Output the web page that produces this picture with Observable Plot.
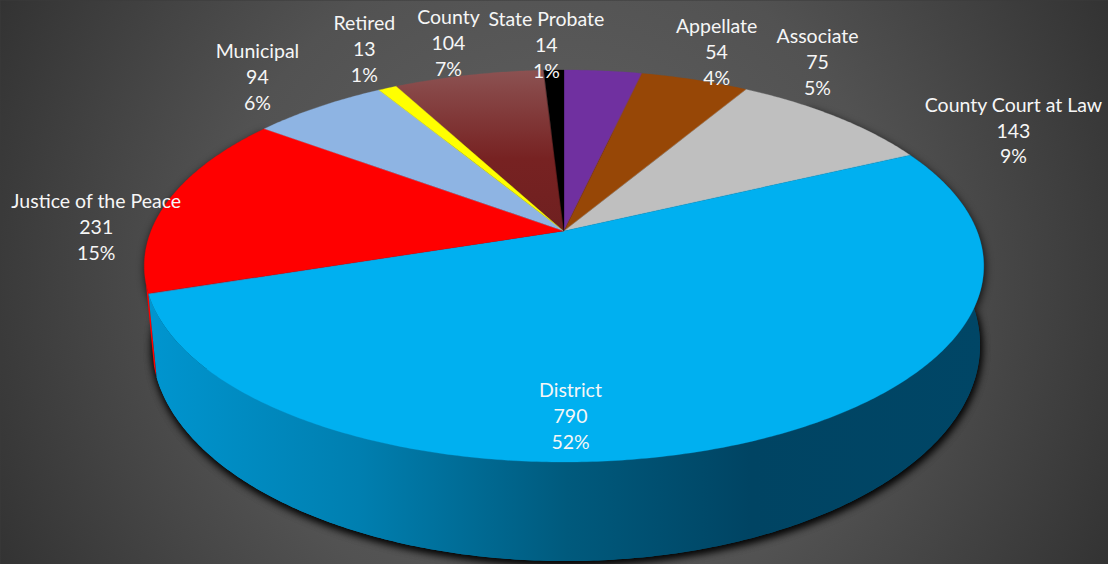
<!DOCTYPE html>
<html>
<head>
<meta charset="utf-8">
<script src="https://cdn.jsdelivr.net/npm/d3@7"></script>
<script src="https://cdn.jsdelivr.net/npm/@observablehq/plot@0.6"></script>
<style>
  html, body { margin: 0; padding: 0; background: #3a3a3a; overflow: hidden; }
  svg { display: block; }
</style>
</head>
<body>
<script>
// Judges by court type, clockwise from twelve o'clock
const courts = ["Appellate", "Associate", "County Court at Law", "District", "Justice of the Peace", "Municipal", "Retired", "County", "State Probate"];
const judges = [54, 75, 143, 790, 231, 94, 13, 104, 14];
const shares = ["4%", "5%", "9%", "52%", "15%", "6%", "1%", "7%", "1%"];
const fills = ["#7030a0", "#974706", "#bfbfbf", "#00b0f0", "#ff0000", "#8eb4e3", "#ffff00", "url(#countyFill)", "#000000"];

// Label offsets from the rim point at each slice's mid-angle
const labelDx = [113, 122, 177, -178, -72, -62, -24, -21, -8];
const labelDy = [-21, -20, 12, -28, 24, -32, -41, -34, -27];

// Perspective view of the disc: top face and the smaller far-side base
const topFace = {cx: 564, cy: 231, a: 413, b: 189.75, k: 0.1786};
const baseFace = {cx: 566, cy: 308.3, a: 408, b: 209.8, k: 0.17};
const project = (f, t) => {
  const w = 1 + f.k * Math.cos(t);
  return [f.cx + f.a * Math.sin(t) / w, f.cy - f.b * Math.cos(t) / w];
};

const total = d3.sum(judges);
const angle = (n) => (n / total) * 2 * Math.PI;
const starts = d3.cumsum([0, ...judges]);
const arc = (from, to, step = 0.01) => {
  const n = Math.max(2, Math.ceil((to - from) / step));
  return d3.range(n + 1).map((i) => from + ((to - from) * i) / n);
};

// A wall ribbon joins the top rim to the base rim over an angular range
const ribbon = (from, to, fill, extra = {}) => {
  const ts = arc(from, to);
  return Plot.area(ts, {
    x1: (t) => project(topFace, t)[0],
    y1: (t) => project(topFace, t)[1],
    x2: (t) => project(baseFace, t)[0],
    y2: (t) => project(baseFace, t)[1],
    fill,
    ...extra
  });
};
// A flat sector fans from a face's centre to its rim
const sector = (face, from, to, fill, extra = {}) => {
  const ts = arc(from, to);
  return Plot.area(ts, {
    x1: () => face.cx,
    y1: () => face.cy,
    x2: (t) => project(face, t)[0],
    y2: (t) => project(face, t)[1],
    fill,
    ...extra
  });
};

const districtIndex = courts.indexOf("District");
const justiceIndex = courts.indexOf("Justice of the Peace");
const districtFrom = angle(starts[districtIndex]);
const districtTo = angle(starts[districtIndex + 1]);
const justiceTo = angle(starts[justiceIndex + 1]);

const labels = courts.map((court, i) => {
  const mid = angle(starts[i] + judges[i] / 2);
  const [rx, ry] = project(topFace, mid);
  return {text: `${court}\n${judges[i]}\n${shares[i]}`, x: rx + labelDx[i], y: ry + labelDy[i]};
});

const defs = () => {
  const el = d3.create("svg:defs");
  const bg = el.append("radialGradient").attr("id", "backdrop")
    .attr("gradientUnits", "userSpaceOnUse")
    .attr("cx", 554).attr("cy", 282).attr("r", 620);
  bg.append("stop").attr("offset", "0").attr("stop-color", "#636363");
  bg.append("stop").attr("offset", "0.55").attr("stop-color", "#525252");
  bg.append("stop").attr("offset", "1").attr("stop-color", "#333333");
  const wall = el.append("linearGradient").attr("id", "wallFill")
    .attr("gradientUnits", "userSpaceOnUse")
    .attr("x1", 150).attr("x2", 985).attr("y1", 0).attr("y2", 0);
  wall.append("stop").attr("offset", "0").attr("stop-color", "#0095cf");
  wall.append("stop").attr("offset", "0.25").attr("stop-color", "#007fb0");
  wall.append("stop").attr("offset", "0.5").attr("stop-color", "#005a7d");
  wall.append("stop").attr("offset", "0.72").attr("stop-color", "#004463");
  wall.append("stop").attr("offset", "1").attr("stop-color", "#004666");
  const county = el.append("linearGradient").attr("id", "countyFill")
    .attr("gradientUnits", "userSpaceOnUse")
    .attr("x1", 0).attr("x2", 0).attr("y1", 70).attr("y2", 231);
  county.append("stop").attr("offset", "0").attr("stop-color", "#8c5252");
  county.append("stop").attr("offset", "0.55").attr("stop-color", "#772222");
  county.append("stop").attr("offset", "1").attr("stop-color", "#6f2020");
  return el.node();
};

const chart = Plot.plot({
  width: 1108,
  height: 564,
  margin: 0,
  style: {background: "transparent", overflow: "hidden"},
  x: {domain: [0, 1108], range: [0, 1108], axis: null},
  y: {domain: [0, 564], range: [0, 564], axis: null},
  marks: [
    defs,
    Plot.frame({fill: "url(#backdrop)", stroke: "none"}),
    // Soft cast shadow under the disc
    sector(baseFace, 0, 2 * Math.PI, "#000", {fillOpacity: 0.85, imageFilter: "blur(4px)", dx: 1, dy: 3}),
    ribbon(districtFrom - 0.4, justiceTo, "#000", {fillOpacity: 0.85, imageFilter: "blur(4px)", dx: 1, dy: 3}),
    // Side wall: thin red edge behind, blue front
    ribbon(districtTo, districtTo + 0.05, fills[justiceIndex]),
    sector(baseFace, districtFrom, districtTo, "url(#wallFill)"),
    ribbon(districtFrom, districtTo, "url(#wallFill)"),
    // Top face
    ...courts.map((court, i) =>
      sector(topFace, angle(starts[i]), angle(starts[i + 1]), fills[i], {
        stroke: fills[i], strokeWidth: 0.3
      })
    ),
    Plot.text(labels, {
      x: "x",
      y: "y",
      text: "text",
      fill: "#f6f6f6",
      fontFamily: "Lato",
      fontSize: 19.5,
      lineHeight: 1.33,
      textAnchor: "middle",
      lineAnchor: "middle"
    })
  ]
});
document.body.appendChild(chart);
</script>
</body>
</html>
